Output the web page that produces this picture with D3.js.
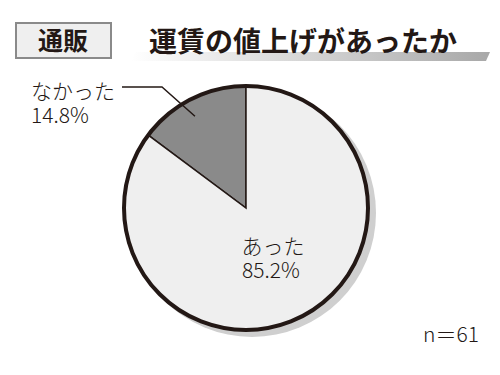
<!DOCTYPE html>
<html>
<head>
<meta charset="utf-8">
<script src="https://cdn.jsdelivr.net/npm/d3@7"></script>
<style>
  body { margin: 0; background: #fff; }
  text { font-family: "Noto Sans CJK JP", sans-serif; }
</style>
</head>
<body>
<div id="chart"></div>
<script>
// data
const labels = ["なかった", "あった"];
const values = [14.8, 85.2];
const colors = ["#8a8a8a", "#efefef"];
const badge = "通販";
const title = "運賃の値上げがあったか";
const note = "n＝61";

const width = 500, height = 375;
const svg = d3.select("#chart").append("svg")
  .attr("width", width).attr("height", height);

// title gradient bar
const defs = svg.append("defs");
const grad = defs.append("linearGradient").attr("id", "bar");
grad.append("stop").attr("offset", "0%").attr("stop-color", "#ffffff");
grad.append("stop").attr("offset", "100%").attr("stop-color", "#a8a8a8");
svg.append("path")
  .attr("d", "M136,52 L490,52 L486,61 L131,61 Z")
  .attr("fill", "url(#bar)");

// badge
svg.append("rect")
  .attr("x", 16).attr("y", 23).attr("width", 95).attr("height", 35)
  .attr("fill", "#efefef").attr("stroke", "#8a8a8a").attr("stroke-width", 2);
svg.append("text")
  .attr("x", 63).attr("y", 50).attr("text-anchor", "middle")
  .style("font-size", "25px").style("font-weight", "bold").style("fill", "#231815")
  .text(badge);

svg.append("text")
  .attr("x", 149).attr("y", 52)
  .style("font-size", "28px").style("font-weight", "bold").style("fill", "#231815")
  .text(title);

// pie
const cx = 246, cy = 208, r = 122;
const pie = d3.pie().sort(null).value(d => d)
  .startAngle(0).endAngle(-2 * Math.PI);
const arcs = pie(values);
const arc = d3.arc().innerRadius(0).outerRadius(r);

const g = svg.append("g").attr("transform", `translate(${cx},${cy})`);
// shadow
g.append("circle")
  .attr("cx", 6).attr("cy", 5).attr("r", r + 2)
  .attr("fill", "#cfcfcf");

g.selectAll("path.slice")
  .data(arcs)
  .join("path")
  .attr("class", "slice")
  .attr("d", arc)
  .attr("fill", (d, i) => colors[i])
  .attr("stroke", "#231815")
  .attr("stroke-width", 1.5);

g.append("circle").attr("r", r)
  .attr("fill", "none").attr("stroke", "#231815").attr("stroke-width", 4);

// leader line for small slice
const mid = d3.arc().innerRadius(r * 0.86).outerRadius(r * 0.86).centroid(arcs[0]);
g.append("polyline")
  .attr("points", [[mid[0] - 4, mid[1] + 2], [-84, -121], [-124, -121]].map(p => p.join(",")).join(" "))
  .attr("fill", "none").attr("stroke", "#231815").attr("stroke-width", 1.5);

const labelStyle = sel => sel.style("font-size", "21px").style("font-weight", 300).style("fill", "#231815");

svg.append("text").attr("x", 31).attr("y", 99).call(labelStyle).text(labels[0]);
svg.append("text").attr("x", 31).attr("y", 123).call(labelStyle).text(values[0].toFixed(1) + "%");

svg.append("text").attr("x", 273).attr("y", 254).attr("text-anchor", "middle").call(labelStyle).text(labels[1]);
svg.append("text").attr("x", 271).attr("y", 278).attr("text-anchor", "middle").call(labelStyle).text(values[1].toFixed(1) + "%");

svg.append("text").attr("x", 479).attr("y", 342).attr("text-anchor", "end").call(labelStyle).text(note);
</script>
</body>
</html>
